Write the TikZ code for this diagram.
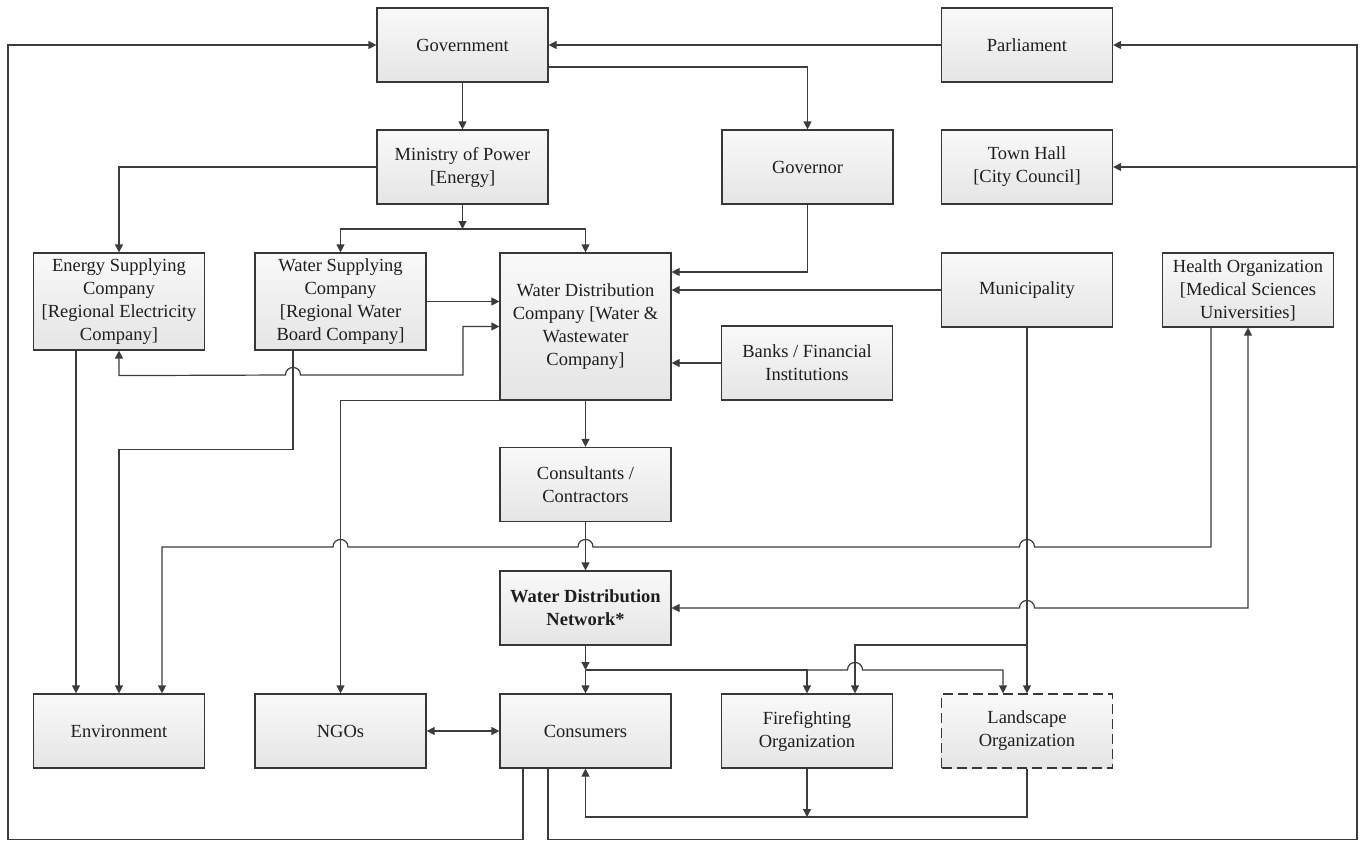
\documentclass[tikz,border=0pt]{standalone}
\usepackage{fontspec}
\setmainfont{Liberation Serif}
\usetikzlibrary{arrows.meta}
\definecolor{linec}{RGB}{60,60,60}
\definecolor{boxc}{RGB}{55,55,55}
\definecolor{filltop}{RGB}{249,249,249}
\definecolor{fillbot}{RGB}{229,229,229}
\definecolor{textc}{RGB}{30,30,30}
\newcommand\hopr[2]{-- ({#1-7.5},#2) .. controls ({#1-7.5},{#2-10}) and ({#1+7.5},{#2-10}) .. ({#1+7.5},#2)}
\newcommand\hopl[2]{-- ({#1+7.5},#2) .. controls ({#1+7.5},{#2-10}) and ({#1-7.5},{#2-10}) .. ({#1-7.5},#2)}
\tikzset{
  box/.style={draw=boxc, line width=1.2pt, top color=filltop, bottom color=fillbot,
    minimum width=171pt, minimum height=74pt, inner sep=2pt, align=center,
    font=\fontsize{18.5}{23}\selectfont, text=textc},
  dashbox/.style={box, dash pattern=on 10pt off 5pt},
  arr/.style={draw=linec, line width=1.2pt, -{Triangle[length=8pt,width=8pt]}},
  arrboth/.style={draw=linec, line width=1.2pt, {Triangle[length=8pt,width=8pt]}-{Triangle[length=8pt,width=8pt]}},
  plain/.style={draw=linec, line width=1.2pt},
}
\begin{document}
\begin{tikzpicture}[x=1pt,y=-1pt]
\useasboundingbox (0,0) rectangle (1363,841);
% nodes
\node[box] (gov) at (462.5,45) {Government};
\node[box] (parl) at (1027,45) {Parliament};
\node[box] (min) at (462.5,167) {Ministry of Power\\{[Energy]}};
\node[box] (governor) at (807.5,167) {Governor};
\node[box] (town) at (1027,167) {Town Hall\\{[City Council]}};
\node[box, minimum height=97pt] (esc) at (119,301.5) {Energy Supplying\\Company\\{[Regional Electricity}\\Company]};
\node[box, minimum height=97pt] (wsc) at (340.5,301.5) {Water Supplying\\Company\\{[Regional Water}\\Board Company]};
\node[box, minimum height=147pt] (wdc) at (585.5,326.5) {Water Distribution\\Company [Water \&\\Wastewater\\Company]};
\node[box] (banks) at (807,363) {Banks / Financial\\Institutions};
\node[box] (muni) at (1027,290) {Municipality};
\node[box] (health) at (1248,290) {Health Organization\\{[Medical Sciences}\\Universities]};
\node[box] (cons) at (585.5,484.5) {Consultants /\\Contractors};
\node[box, font=\fontsize{18.5}{23}\selectfont\bfseries] (wdn) at (585.5,608) {Water Distribution\\Network*};
\node[box] (env) at (119,731) {Environment};
\node[box] (ngo) at (340.5,731) {NGOs};
\node[box] (consumers) at (585.5,731) {Consumers};
\node[box] (fire) at (807,731) {Firefighting\\Organization};
\node[dashbox] (land) at (1027,731) {Landscape\\Organization};
% junctions
\coordinate (j1) at (462.5,229);
\coordinate (j2) at (585.5,670);
\coordinate (j3) at (1027,645);
\coordinate (j4) at (807,817);
\coordinate (lt) at (8,45);
\coordinate (rt) at (1357,45);
% connectors
\draw[arr] (parl.west) -- (gov.east);
\draw[arr] (gov.south) -- (min.north);
\draw[arr] ([yshift=-22pt]gov.east) -| (governor.north);
\draw[arr] (min.west) -| (esc.north);
\draw[arr] (min.south) -- (j1);
\draw[arr] (j1) -| (wsc.north);
\draw[arr] (j1) -| (wdc.north);
\draw[arr] (governor.south) |- ([yshift=54.5pt]wdc.east);
\draw[arr] (muni.west) -- (muni.west -| wdc.east);
\draw[arr] (banks.west) -- (banks.west -| wdc.east);
\draw[arr] (wsc.east) -- (wsc.east -| wdc.west);
\draw[arrboth] (esc.south) -- ++(0,25) \hopr{293}{375} -- (463,375) |- (wdc.west);
\draw[arr] ([xshift=-47.5pt]wsc.south) -- ++(0,99) -| (env.north);
\draw[arr] ([xshift=-43pt]esc.south) -- ([xshift=-43pt]env.north);
\draw[arr] ([xshift=-37pt]health.south) -- (1211,547) \hopl{1027}{547} \hopl{585.5}{547} \hopl{340.5}{547} -- (162,547) -- ([xshift=43pt]env.north);
\draw[arr] (wdc.south west) -| (ngo.north);
\draw[arr] (wdc.south) -- (cons.north);
\draw[arr] (cons.south) -- (wdn.north);
\draw[arrboth] (wdn.east) \hopr{1027}{608} -- (1248,608) -- (health.south);
\draw[arr] (wdn.south) -- (j2);
\draw[arr] (j2) -- (consumers.north);
\draw[arr] (j2) -| (fire.north);
\draw[arr] (j2) \hopr{855}{670} -| ([xshift=-24pt]land.north);
\draw[arr] (muni.south) -- (land.north);
\draw[arr] (j3) -| ([xshift=48pt]fire.north);
\draw[arr] (fire.south) -- (j4);
\draw[arr] (land.south) |- (j4) -| (consumers.south);
\draw[arrboth] (ngo.east) -- (consumers.west);
\draw[arr] ([xshift=-62.5pt]consumers.south) -- ++(0,71) -| (lt) -- (gov.west);
\draw[arr] ([xshift=-37.5pt]consumers.south) -- ++(0,71) -| (rt) -- (parl.east);
\draw[arr] (town.east -| rt) -- (town.east);
\end{tikzpicture}
\end{document}
